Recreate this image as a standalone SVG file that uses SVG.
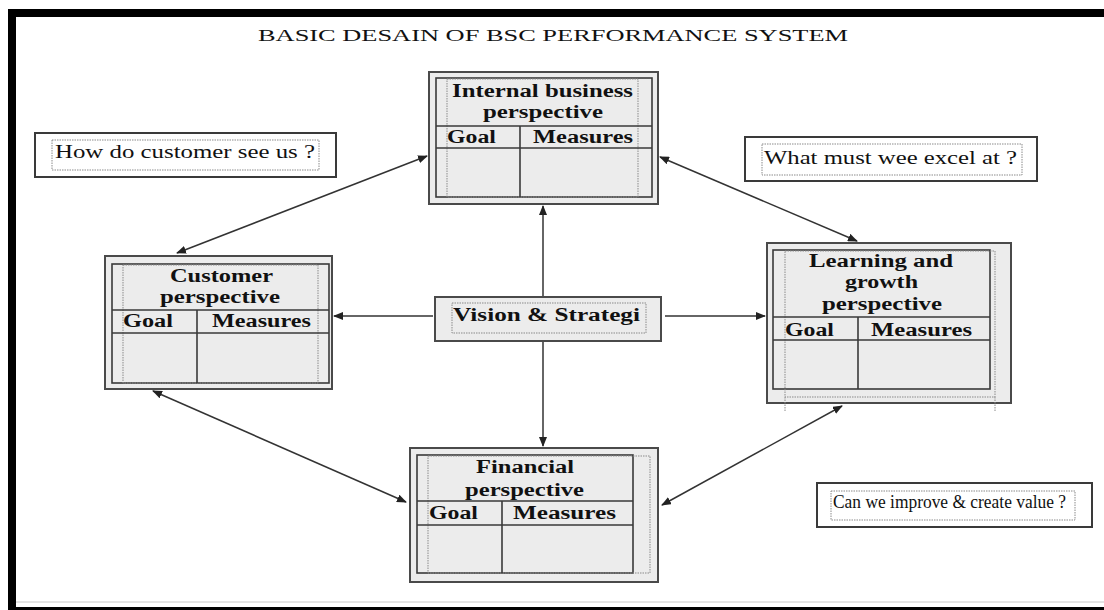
<svg xmlns="http://www.w3.org/2000/svg" width="1104" height="610" viewBox="0 0 1104 610">
<style>
.bg{fill:#ffffff}
.frame{fill:#000000}
.outer{fill:#ececec;stroke:#4a4a4a;stroke-width:2}
.tbl{fill:none;stroke:#3a3a3a;stroke-width:1.6}
.dot{fill:none;stroke:#8a8a8a;stroke-width:1;stroke-dasharray:1.5 1}
.note{fill:#ffffff;stroke:#3a3a3a;stroke-width:2}
.conn{stroke:#333333;stroke-width:1.5;fill:none}
text{font-family:"Liberation Serif","Times New Roman",serif;fill:#111111}
.b{font-weight:bold;font-size:18px}
.r{font-size:18px}
.title{font-size:17px}
</style>
<defs>
<marker id="ah" viewBox="0 0 10 8" refX="9" refY="4" markerWidth="10" markerHeight="8" markerUnits="userSpaceOnUse" orient="auto-start-reverse">
<path d="M0,0 L10,4 L0,8 z" fill="#222222"/>
</marker>
</defs>
<rect class="bg" x="0" y="0" width="1104" height="610"/>
<g id="frame">
<rect class="frame" x="8" y="9" width="1096" height="8"/>
<rect class="frame" x="8" y="9" width="8" height="601"/>
<rect class="frame" x="8" y="607" width="1096" height="3"/>
<line x1="16" y1="602" x2="1104" y2="602" stroke="#c8c8c8" stroke-width="1"/>
</g>
<text class="title" x="258" y="41" textLength="590" lengthAdjust="spacingAndGlyphs">BASIC DESAIN OF BSC PERFORMANCE SYSTEM</text>

<g id="connectors">
<line class="conn" x1="543" y1="297" x2="543" y2="206" marker-end="url(#ah)"/>
<line class="conn" x1="543" y1="341" x2="543" y2="446" marker-end="url(#ah)"/>
<line class="conn" x1="433" y1="316" x2="334" y2="316" marker-end="url(#ah)"/>
<line class="conn" x1="665" y1="316" x2="765" y2="316" marker-end="url(#ah)"/>
<line class="conn" x1="177" y1="253" x2="427" y2="156" marker-start="url(#ah)" marker-end="url(#ah)"/>
<line class="conn" x1="660" y1="157" x2="857" y2="241" marker-start="url(#ah)" marker-end="url(#ah)"/>
<line class="conn" x1="153" y1="391" x2="406" y2="502" marker-start="url(#ah)" marker-end="url(#ah)"/>
<line class="conn" x1="662" y1="505" x2="842" y2="406" marker-start="url(#ah)" marker-end="url(#ah)"/>
</g>

<g id="internal">
<rect class="outer" x="429" y="72" width="229" height="132"/>
<rect class="tbl" x="436" y="78" width="216" height="119"/>
<rect class="dot" x="447" y="79" width="191" height="118"/>
<line class="tbl" x1="436" y1="126" x2="652" y2="126"/>
<line class="tbl" x1="436" y1="148" x2="652" y2="148"/>
<line class="tbl" x1="520" y1="126" x2="520" y2="197"/>
<text class="b" x="452" y="97" textLength="181" lengthAdjust="spacingAndGlyphs">Internal business</text>
<text class="b" x="483" y="118" textLength="120" lengthAdjust="spacingAndGlyphs">perspective</text>
<text class="b" x="447" y="143" textLength="49" lengthAdjust="spacingAndGlyphs">Goal</text>
<text class="b" x="533" y="143" textLength="100" lengthAdjust="spacingAndGlyphs">Measures</text>
</g>

<g id="customer">
<rect class="outer" x="105" y="256" width="227" height="133"/>
<rect class="tbl" x="112" y="264" width="217" height="119"/>
<rect class="dot" x="123" y="265" width="195" height="118"/>
<line class="tbl" x1="112" y1="310" x2="329" y2="310"/>
<line class="tbl" x1="112" y1="333" x2="329" y2="333"/>
<line class="tbl" x1="197" y1="310" x2="197" y2="383"/>
<text class="b" x="170" y="282" textLength="103" lengthAdjust="spacingAndGlyphs">Customer</text>
<text class="b" x="160" y="303" textLength="120" lengthAdjust="spacingAndGlyphs">perspective</text>
<text class="b" x="123" y="327" textLength="50" lengthAdjust="spacingAndGlyphs">Goal</text>
<text class="b" x="212" y="327" textLength="99" lengthAdjust="spacingAndGlyphs">Measures</text>
</g>

<g id="learning">
<rect class="outer" x="767" y="243" width="244" height="160"/>
<rect class="tbl" x="773" y="250" width="217" height="139"/>
<rect class="dot" x="785" y="251" width="210" height="146"/>
<line class="dot" x1="785" y1="397" x2="785" y2="412"/>
<line class="dot" x1="995" y1="397" x2="995" y2="412"/>
<line class="tbl" x1="773" y1="317" x2="990" y2="317"/>
<line class="tbl" x1="773" y1="340" x2="990" y2="340"/>
<line class="tbl" x1="858" y1="317" x2="858" y2="389"/>
<text class="b" x="809" y="267" textLength="144" lengthAdjust="spacingAndGlyphs">Learning and</text>
<text class="b" x="845" y="288" textLength="73" lengthAdjust="spacingAndGlyphs">growth</text>
<text class="b" x="822" y="310" textLength="120" lengthAdjust="spacingAndGlyphs">perspective</text>
<text class="b" x="785" y="336" textLength="49" lengthAdjust="spacingAndGlyphs">Goal</text>
<text class="b" x="871" y="336" textLength="101" lengthAdjust="spacingAndGlyphs">Measures</text>
</g>

<g id="financial">
<rect class="outer" x="410" y="448" width="248" height="134"/>
<rect class="tbl" x="417" y="455" width="216" height="118"/>
<rect class="dot" x="428" y="456" width="222" height="117"/>
<line class="tbl" x1="417" y1="501" x2="633" y2="501"/>
<line class="tbl" x1="417" y1="525" x2="633" y2="525"/>
<line class="tbl" x1="502" y1="501" x2="502" y2="573"/>
<text class="b" x="476" y="473" textLength="98" lengthAdjust="spacingAndGlyphs">Financial</text>
<text class="b" x="465" y="496" textLength="119" lengthAdjust="spacingAndGlyphs">perspective</text>
<text class="b" x="429" y="519" textLength="49" lengthAdjust="spacingAndGlyphs">Goal</text>
<text class="b" x="513" y="519" textLength="103" lengthAdjust="spacingAndGlyphs">Measures</text>
</g>

<g id="vision">
<rect class="outer" x="435" y="297" width="226" height="44"/>
<rect class="dot" x="452" y="303" width="194" height="30"/>
<text class="b" x="453" y="321" textLength="187" lengthAdjust="spacingAndGlyphs">Vision &amp; Strategi</text>
</g>

<g id="note-customer">
<rect class="note" x="35" y="133" width="301" height="44"/>
<rect class="dot" x="52" y="140" width="267" height="30"/>
<text class="r" x="55" y="158" textLength="260" lengthAdjust="spacingAndGlyphs">How do customer see us ?</text>
</g>

<g id="note-internal">
<rect class="note" x="745" y="137" width="292" height="44"/>
<rect class="dot" x="762" y="144" width="260" height="31"/>
<text class="r" x="764" y="164" textLength="253" lengthAdjust="spacingAndGlyphs">What must wee excel at ?</text>
</g>

<g id="note-learning">
<rect class="note" x="817" y="483" width="275" height="44"/>
<rect class="dot" x="831" y="491" width="244" height="29"/>
<text class="r" x="833" y="508" textLength="233" lengthAdjust="spacingAndGlyphs">Can we improve &amp; create value ?</text>
</g>
</svg>
